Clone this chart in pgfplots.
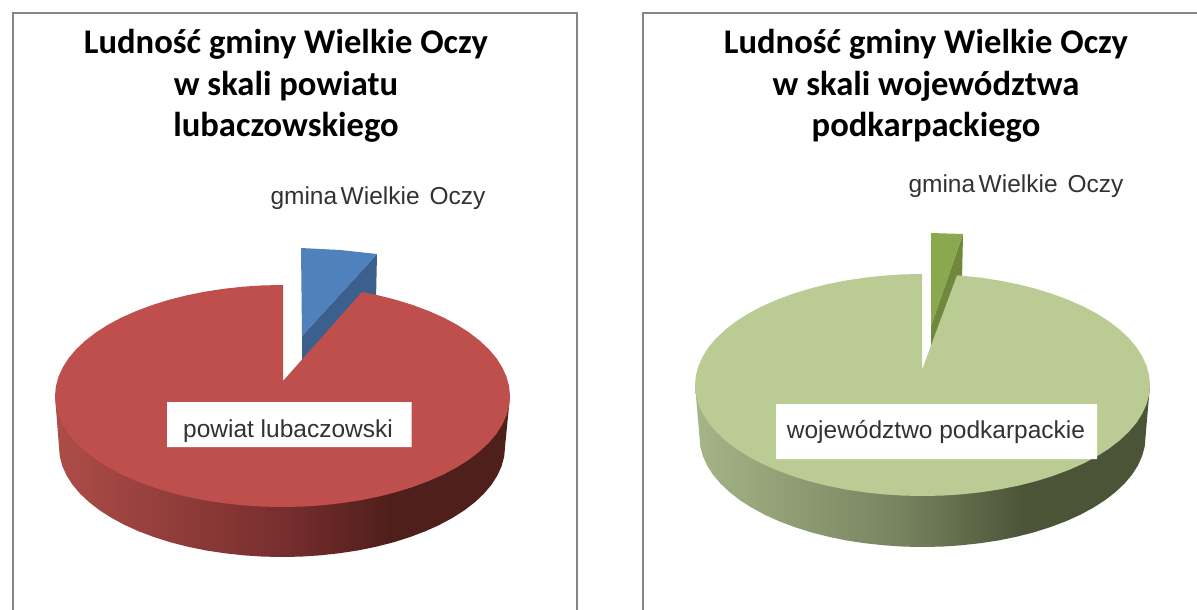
\documentclass[border=0pt]{standalone}
\usepackage{fontspec}
\setmainfont{Carlito}
\newfontfamily\labelfont{Liberation Sans}
\usepackage{pgfplots}
\pgfplotsset{compat=1.18}
\definecolor{framegray}{RGB}{134,134,134}
\definecolor{labelgray}{RGB}{50,50,50}
\definecolor{redtop}{RGB}{190,79,76}
\definecolor{bluetop}{RGB}{79,129,189}
\definecolor{bluedark}{RGB}{60,96,141}
\definecolor{greenmain}{RGB}{186,204,148}
\definecolor{greentop}{RGB}{138,168,78}
\definecolor{greendark}{RGB}{112,136,62}
% visible range of a tikz shading is 25bp..75bp
\pgfdeclarehorizontalshading{redside}{100bp}{
  rgb(0bp)=(0.68,0.30,0.28); rgb(25bp)=(0.68,0.30,0.28);
  rgb(50bp)=(0.47,0.18,0.18); rgb(62bp)=(0.31,0.12,0.11); rgb(100bp)=(0.31,0.12,0.11)}
\pgfdeclarehorizontalshading{greenside}{100bp}{
  rgb(0bp)=(0.65,0.71,0.53); rgb(25bp)=(0.65,0.71,0.53);
  rgb(48bp)=(0.46,0.51,0.37); rgb(61bp)=(0.30,0.33,0.22); rgb(100bp)=(0.30,0.33,0.22)}
\pgfplotsset{
  panel/.style={
    scale only axis, height=610pt, ymin=0, ymax=610, y dir=reverse,
    axis lines=none, ticks=none, no markers,
    title style={anchor=north, align=center, inner sep=0pt,
      font=\fontsize{34.6}{41.5}\selectfont\bfseries},
  },
  flat/.style={fill=#1, draw=none},
  framed/.style={draw=framegray, line width=1.8pt, line join=miter},
}
\newcommand{\lab}{\labelfont\fontsize{24.5}{28}\selectfont\color{labelgray}}
\newcommand{\gminalabel}{gmina\hspace{3.5pt}Wielkie\hspace{10pt}Oczy}
\begin{document}
\begin{tikzpicture}[x=1pt,y=1pt]
\path[use as bounding box] (0,0) rectangle (1197,610);
\begin{axis}[panel, at={(0,0)}, anchor=south west, width=610pt, xmin=0, xmax=610,
  title={Ludność gminy Wielkie Oczy\\w skali powiatu\\lubaczowskiego},
  title style={at={(286/610,0.9425)}}]
\addplot[framed] coordinates {(13,620)(13,13)(577,13)(577,620)};
% exploded slice
\addplot[flat=bluedark] coordinates {(377,254)(376,300)(302,365)(302,336)(377,254)};
\addplot[flat=bluetop] coordinates {(301,248)(340,250)(377,254)(302,336)(301,248)};
% rim
\addplot[draw=none, shade, shading=redside] coordinates {
  (510,396)(505,447)(504.2,456.6)(501.6,466.1)(497.4,475.5)(491.6,484.6)(484.1,493.5)(475.1,502)
  (464.7,510.1)(452.8,517.7)(439.7,524.8)(425.3,531.3)(409.9,537.1)(393.5,542.3)(376.2,546.7)
  (358.3,550.4)(339.7,553.2)(320.7,555.3)(301.4,556.6)(282,557)(262.6,556.6)(243.3,555.3)
  (224.3,553.2)(205.7,550.4)(187.8,546.7)(170.5,542.3)(154.1,537.1)(138.7,531.3)(124.3,524.8)
  (111.2,517.7)(99.3,510.1)(88.9,502)(79.9,493.5)(72.4,484.6)(66.6,475.5)(62.4,466.1)(59.8,456.6)
  (59,447)(55,396)(510,396)};
% top face
\addplot[flat=redtop] coordinates {
  (283,381)(362,292)(378.6,295.4)(396.3,299.9)(413,305.1)(428.7,311)(443.4,317.5)(456.8,324.6)
  (468.9,332.3)(479.5,340.5)(488.7,349.1)(496.3,358)(502.2,367.3)(506.5,376.7)(509.1,386.3)
  (510,396)(509.1,405.7)(506.5,415.3)(502.2,424.7)(496.3,434)(488.7,442.9)(479.5,451.5)
  (468.9,459.7)(456.8,467.4)(443.4,474.5)(428.7,481)(413,486.9)(396.3,492.1)(378.6,496.6)
  (360.3,500.3)(341.4,503.2)(322,505.3)(302.3,506.6)(282.5,507)(262.7,506.6)(243,505.3)
  (223.6,503.2)(204.7,500.3)(186.4,496.6)(168.7,492.1)(152,486.9)(136.3,481)(121.6,474.5)
  (108.2,467.4)(96.1,459.7)(85.5,451.5)(76.3,442.9)(68.7,434)(62.8,424.7)(58.5,415.3)(55.9,405.7)
  (55,396)(55.9,386.3)(58.5,376.7)(62.8,367.3)(68.7,358)(76.3,349.1)(85.5,340.5)(96.1,332.3)
  (108.2,324.6)(121.6,317.5)(136.3,311)(152,305.1)(168.7,299.9)(186.4,295.4)(204.7,291.7)
  (223.6,288.8)(243,286.7)(262.7,285.4)(283,285)(283,381)};
\addplot[flat=white] coordinates {(167,402)(411.5,402)(411.5,447)(167,447)(167,402)};
\node[font=\lab] at (axis cs:288,431) {powiat lubaczowski};
\node[font=\lab] at (axis cs:378,198) {\gminalabel};
\end{axis}
\begin{axis}[panel, at={(610,0)}, anchor=south west, width=587pt, xmin=610, xmax=1197,
  title={Ludność gminy Wielkie Oczy\\w skali województwa\\podkarpackiego},
  title style={at={(316/587,0.9425)}}]
\addplot[framed] coordinates {(643,620)(643,13)(1210,13)};
\addplot[flat=greendark] coordinates {(963,234)(962,280)(957,280)(931,348)(931,326)(963,234)};
\addplot[flat=greentop] coordinates {(931,233)(963,234)(931,326)(931,233)};
\addplot[draw=none, shade, shading=greenside] coordinates {
  (1150,385)(1145.5,437)(1144.7,446.6)(1142.1,456.1)(1137.9,465.5)(1132.1,474.6)(1124.6,483.5)
  (1115.6,492)(1105.2,500.1)(1093.3,507.7)(1080.2,514.8)(1065.8,521.3)(1050.4,527.1)(1034,532.3)
  (1016.7,536.7)(998.8,540.4)(980.2,543.2)(961.2,545.3)(941.9,546.6)(922.5,547)(903.1,546.6)
  (883.8,545.3)(864.8,543.2)(846.2,540.4)(828.3,536.7)(811,532.3)(794.6,527.1)(779.2,521.3)
  (764.8,514.8)(751.7,507.7)(739.8,500.1)(729.4,492)(720.4,483.5)(712.9,474.6)(707.1,465.5)
  (702.9,456.1)(700.3,446.6)(699.5,437)(695,385)(1150,385)};
\addplot[flat=greenmain] coordinates {
  (922,370)(957,275.3)(962,275.7)(981.4,277.8)(1000.3,280.7)(1018.6,284.4)(1036.3,288.9)(1053,294.1)
  (1068.7,300)(1083.4,306.5)(1096.8,313.6)(1108.9,321.3)(1119.5,329.5)(1128.7,338.1)(1136.3,347)
  (1142.2,356.3)(1146.5,365.7)(1149.1,375.3)(1150,385)(1149.1,394.7)(1146.5,404.3)(1142.2,413.7)
  (1136.3,423)(1128.7,431.9)(1119.5,440.5)(1108.9,448.7)(1096.8,456.4)(1083.4,463.5)(1068.7,470)
  (1053,475.9)(1036.3,481.1)(1018.6,485.6)(1000.3,489.3)(981.4,492.2)(962,494.3)(942.3,495.6)
  (922.5,496)(902.7,495.6)(883,494.3)(863.6,492.2)(844.7,489.3)(826.4,485.6)(808.7,481.1)(792,475.9)
  (776.3,470)(761.6,463.5)(748.2,456.4)(736.1,448.7)(725.5,440.5)(716.3,431.9)(708.7,423)(702.8,413.7)
  (698.5,404.3)(695.9,394.7)(695,385)(695.9,375.3)(698.5,365.7)(702.8,356.3)(708.7,347)(716.3,338.1)
  (725.5,329.5)(736.1,321.3)(748.2,313.6)(761.6,306.5)(776.3,300)(792,294.1)(808.7,288.9)(826.4,284.4)
  (844.7,280.7)(863.6,277.8)(883,275.7)(902.7,274.4)(922,274)(922,370)};
\addplot[flat=white] coordinates {(776,404)(1097,404)(1097,459)(776,459)(776,404)};
\node[font=\lab] at (axis cs:936,432) {województwo podkarpackie};
\node[font=\lab] at (axis cs:1016,186) {\gminalabel};
\end{axis}
\end{tikzpicture}
\end{document}
